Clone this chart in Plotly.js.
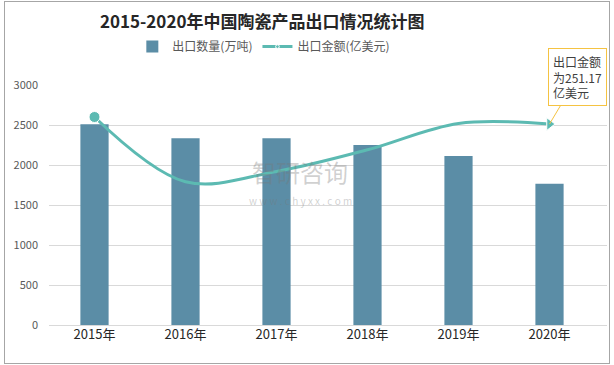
<!DOCTYPE html>
<html><head><meta charset="utf-8">
<script src="https://cdn.plot.ly/plotly-3.0.1.min.js"></script>
<style>html,body{margin:0;padding:0;background:#fff;overflow:hidden}#wrap{position:relative;width:614px;height:365px}#chart{width:614px;height:365px}#frame{position:absolute;left:4px;top:1px;width:604px;height:361px;border:1px solid #a6a6a6;pointer-events:none}</style>
</head><body>
<div id="wrap"><div id="chart"></div><div id="frame"></div></div>
<script>
const years = ['2015年','2016年','2017年','2018年','2019年','2020年'];
const volume = [2510, 2335, 2335, 2250, 2112, 1765];
const value = [260, 179, 192, 219, 252, 251.17];
const seriesNames = ['出口数量(万吨)','出口金额(亿美元)'];
const titleText = '2015-2020年中国陶瓷产品出口情况统计图';
const calloutText = '出口金额<br>为251.17<br>亿美元';

const font = '"Noto Sans CJK SC","Noto Sans",sans-serif';
const symbols = value.map((v,i)=> i===value.length-1 ? 'triangle-right' : 'circle');
const sizes = value.map((v,i)=> (i===0 || i===value.length-1) ? 11 : 0);

const traces = [
  {type:'bar', x:years, y:volume, name:seriesNames[0], marker:{color:'#5b8da6'}, yaxis:'y'},
  {type:'scatter', mode:'lines+markers', x:years, y:value, name:seriesNames[1], yaxis:'y2',
   line:{color:'#5cbab2', width:3, shape:'spline', smoothing:1},
   marker:{color:'#5cbab2', symbol:symbols, size:sizes, opacity:1}}
];
const layout = {
  width:614, height:365,
  margin:{l:49, r:7, t:85, b:40, autoexpand:false},
  paper_bgcolor:'#fff', plot_bgcolor:'#fff',
  title:{text:'<b>'+titleText+'</b>', x:0.427, xanchor:'center', y:0.94, yanchor:'middle',
         font:{family:font, size:17, color:'#262626'}},
  showlegend:true,
  legend:{orientation:'h', x:0.385, xanchor:'center', y:1.16, yanchor:'middle',
          font:{family:font, size:12, color:'#595959'}, itemwidth:30},
  bargap:0.69,
  xaxis:{type:'category', tickfont:{family:font, size:13, color:'#262626'}, showgrid:false,
         showline:false, ticks:''},
  yaxis:{range:[0,3000], dtick:500, gridcolor:'#d9d9d9', zeroline:true, zerolinecolor:'#d9d9d9',
         tickfont:{family:font, size:11, color:'#595959'}, ticklabelstandoff:10, fixedrange:true},
  yaxis2:{range:[0,300], overlaying:'y', side:'right', visible:false},
  annotations:[
    {x:years[5], y:value[5], xref:'x', yref:'y2', text:calloutText, align:'left',
     showarrow:true, arrowhead:0, arrowwidth:1, arrowcolor:'#f5c342', ax:28, ay:-47,
     bordercolor:'#f5c342', borderwidth:1, borderpad:4, bgcolor:'#fff',
     font:{family:font, size:12, color:'#404040'}},
    {x:0.45, y:0.64, xref:'paper', yref:'paper', text:'智研咨询', showarrow:false,
     font:{family:font, size:24, color:'rgba(120,120,120,0.35)'}},
    {x:0.45, y:0.52, xref:'paper', yref:'paper', text:'w w w . c h y x x . c o m', showarrow:false,
     font:{family:font, size:10, color:'rgba(120,120,120,0.35)'}}
  ]
};
Plotly.newPlot('chart', traces, layout, {displayModeBar:false, staticPlot:true});
</script>
</body></html>
